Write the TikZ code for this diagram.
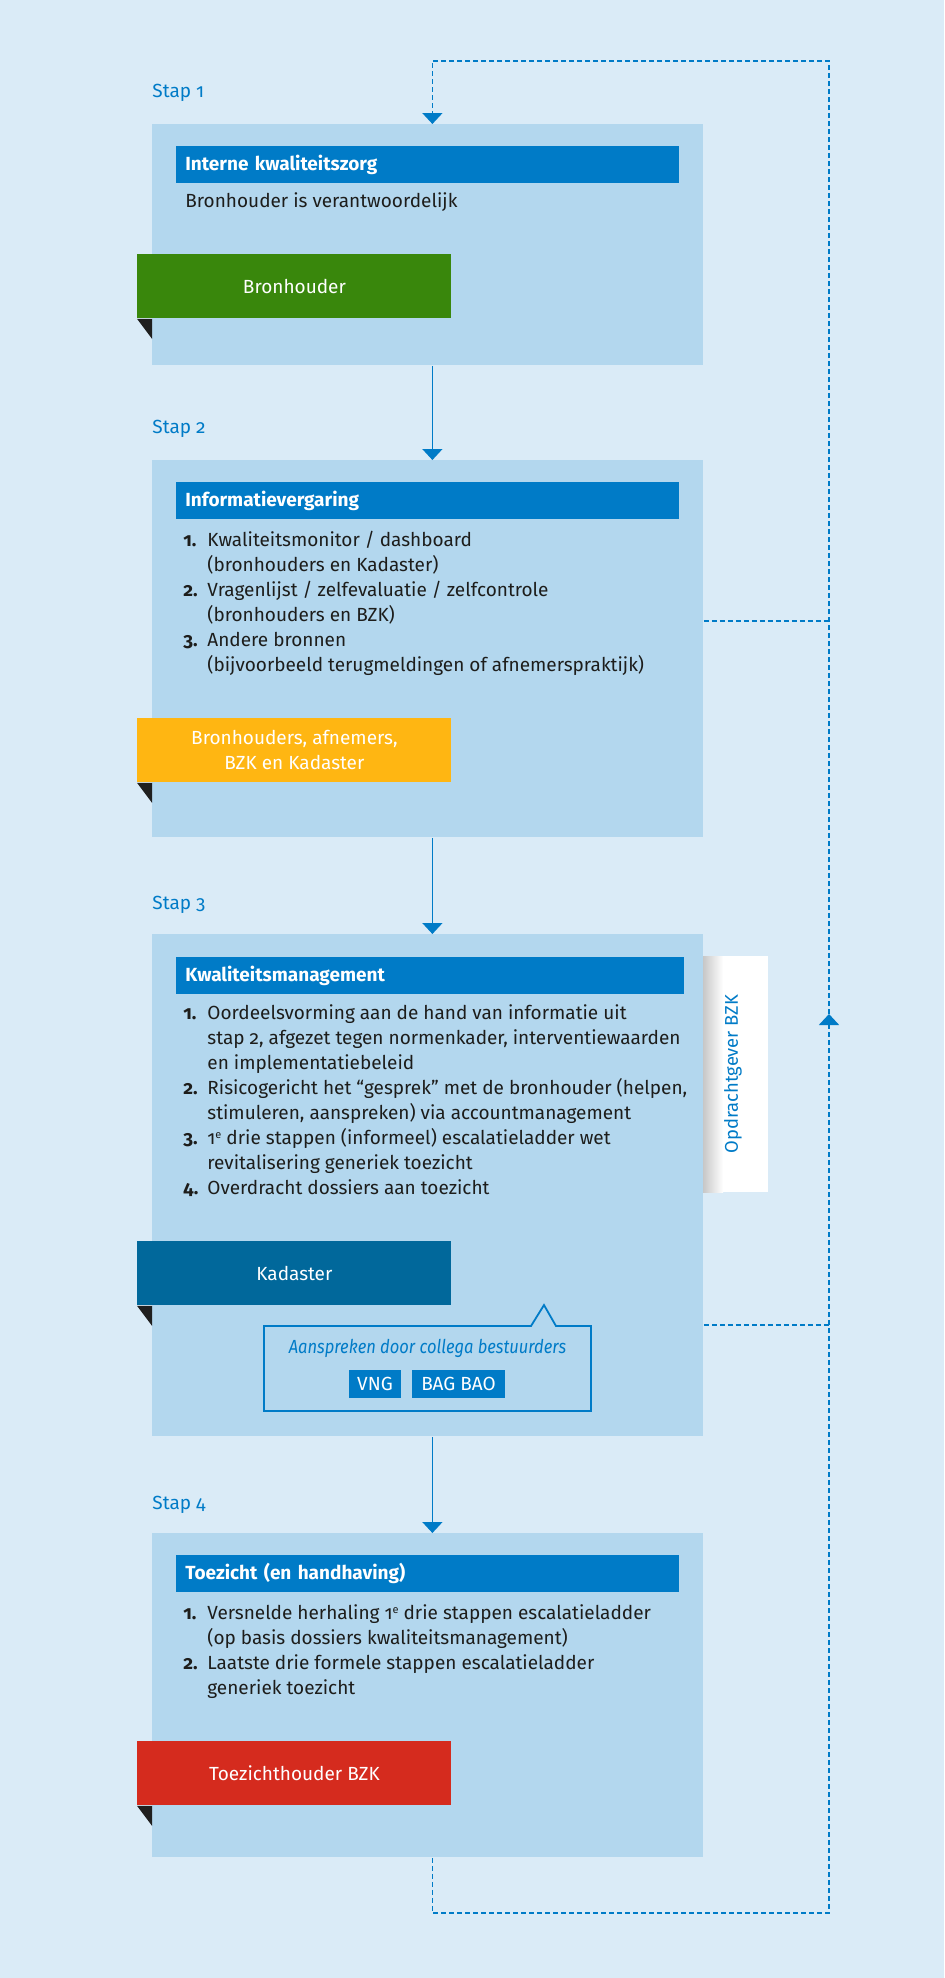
\documentclass[tikz,border=0pt]{standalone}
\usepackage{fontspec}
\setmainfont{Fira Sans}[Numbers=OldStyle]
\newfontfamily\calloutfont{Fira Sans}[FakeStretch=0.87, Numbers=OldStyle]
\usepackage{xcolor}
\usetikzlibrary{arrows.meta}

\definecolor{bgblue}{HTML}{DAEBF7}
\definecolor{boxblue}{HTML}{B3D7EE}
\definecolor{roblue}{HTML}{007BC7}
\definecolor{rogreen}{HTML}{39870C}
\definecolor{royellow}{HTML}{FFB612}
\definecolor{rodarkblue}{HTML}{01689B}
\definecolor{rored}{HTML}{D52B1E}
\definecolor{textdark}{HTML}{1D1D1B}

\newcommand{\bodysize}{\fontsize{9.5}{12.5}\selectfont}
\newcommand{\nr}[1]{\makebox[12pt][l]{\bfseries #1}}
\newcommand{\ind}{\hspace*{12pt}}
\newcommand{\ordsup}[1]{\raisebox{0.6ex}{\fontsize{5.5}{6}\selectfont #1}}

\begin{document}
\begin{tikzpicture}[x=0.5pt, y=-0.5pt, font=\bodysize,
    stepbox/.style={rectangle, fill=boxblue, inner sep=0pt, anchor=north west, minimum width=275.5pt},
    titlebar/.style={rectangle, fill=roblue, text=white, font=\bodysize\bfseries, anchor=north west,
        inner xsep=4.5pt, inner ysep=0pt, minimum height=18.5pt, text width=242.5pt, align=left},
    tab/.style={rectangle, anchor=north west, inner sep=0pt, minimum width=157pt, minimum height=32pt,
        text=white, align=center},
    tabfold/.style={fill=black!88},
    steplabel/.style={anchor=west, inner sep=0pt, text=roblue},
    listtext/.style={anchor=north west, inner sep=0pt, align=left, text=textdark},
    smallbox/.style={rectangle, fill=roblue, text=white, inner sep=0pt, minimum height=14pt},
    arrow/.style={-{Triangle[width=10pt,length=5.5pt]}, roblue, line width=0.75pt},
    feedback/.style={roblue, line width=0.9pt, dash pattern=on 2.5pt off 1.5pt},
    callout/.style={draw=roblue, line width=0.9pt}
]
    \fill[bgblue] (0,0) rectangle (944,1978);
    \useasboundingbox (0,0) rectangle (944,1978);

    \node[stepbox, minimum height=120.5pt] (stap1box) at (152,124) {};
    \node[stepbox, minimum height=188.5pt] (stap2box) at (152,460) {};
    \node[stepbox, minimum height=251pt] (stap3box) at (152,934) {};
    \node[stepbox, minimum height=162pt] (stap4box) at (152,1533) {};

    \node[steplabel] (stap1) at (152,93) {Stap 1};
    \node[steplabel] (stap2) at (152,429) {Stap 2};
    \node[steplabel] (stap3) at (152,905) {Stap 3};
    \node[steplabel] (stap4) at (152,1505) {Stap 4};

    \node[titlebar] (title1) at (176,146) {Interne kwaliteitszorg};
    \node[titlebar] (title2) at (176,482) {Informatievergaring};
    \node[titlebar, text width=245pt] (title3) at (176,957) {Kwaliteitsmanagement};
    \node[titlebar] (title4) at (176,1555) {Toezicht (en handhaving)};

    \node[listtext, anchor=west] (text1) at (185,202) {Bronhouder is verantwoordelijk};
    \node[listtext] (list2) at (183,531) {\nr{1.}Kwaliteitsmonitor / dashboard\\
        \ind(bronhouders en Kadaster)\\
        \nr{2.}Vragenlijst / zelfevaluatie / zelfcontrole\\
        \ind(bronhouders en BZK)\\
        \nr{3.}Andere bronnen\\
        \ind(bijvoorbeeld terugmeldingen of afnemerspraktijk)};
    \node[listtext] (list3) at (183,1004) {\nr{1.}Oordeelsvorming aan de hand van informatie uit\\
        \ind stap 2, afgezet tegen normenkader, interventiewaarden\\
        \ind en implementatiebeleid\\
        \nr{2.}Risicogericht het “gesprek” met de bronhouder (helpen,\\
        \ind stimuleren, aanspreken) via accountmanagement\\
        \nr{3.}1\ordsup{e} drie stappen (informeel) escalatieladder wet\\
        \ind revitalisering generiek toezicht\\
        \nr{4.}Overdracht dossiers aan toezicht};
    \node[listtext] (list4) at (183,1604) {\nr{1.}Versnelde herhaling 1\ordsup{e} drie stappen escalatieladder\\
        \ind(op basis dossiers kwaliteitsmanagement)\\
        \nr{2.}Laatste drie formele stappen escalatieladder\\
        \ind generiek toezicht};

    \node[tab, fill=rogreen] (tab1) at (137,254) {Bronhouder};
    \node[tab, fill=royellow] (tab2) at (137,718) {Bronhouders, afnemers,\\BZK en Kadaster};
    \node[tab, fill=rodarkblue] (tab3) at (137,1241) {Kadaster};
    \node[tab, fill=rored] (tab4) at (137,1741) {Toezichthouder BZK};
    \foreach \t in {tab1,tab2,tab3,tab4}
        \fill[tabfold] (\t.south west) -- ++(15,0) -- ++(0,20) -- cycle;

    \draw[callout] (264,1326) -- (531,1326) -- (544,1305) -- (556,1326) -- (591,1326)
        -- (591,1411) -- (264,1411) -- cycle;
    \node[text=roblue, font=\calloutfont\bodysize\itshape] (aanspreken) at (427.5,1348) {Aanspreken door collega bestuurders};
    \node[smallbox, minimum width=26pt] (vng) at (375,1384) {VNG};
    \node[smallbox, minimum width=46.5pt] (bagbao) at (458.5,1384) {BAG BAO};

    \node[rectangle, fill=white, inner sep=0pt, anchor=north west, minimum width=32.5pt,
        minimum height=118pt] (strip) at (703,956) {};
    \shade[left color=black!22, right color=white] (strip.north west) rectangle ++(20,236);
    \node[rotate=90, text=roblue, font=\fontsize{9.2}{11}\selectfont] (opdrachtgever) at (733,1074) {Opdrachtgever BZK};

    \foreach \a/\b in {stap1box/stap2box, stap2box/stap3box, stap3box/stap4box}
        \draw[arrow] ([xshift=2.25pt]\a.south) -- ([xshift=2.25pt]\b.north);

    \coordinate (loopbottom) at (829,1913);
    \coordinate (looptop) at (829,61);
    \coordinate (loopup) at (829,1014);
    \coordinate (branch2) at (829,621);
    \coordinate (branch3) at (829,1325);
    \draw[feedback, -{Triangle[width=10pt,length=5.5pt]}] ([xshift=2.25pt]stap4box.south) |- (loopbottom) -- (loopup);
    \draw[feedback, -{Triangle[width=10pt,length=5.5pt]}] (loopup) -- (looptop) -| ([xshift=2.25pt]stap1box.north);
    \draw[feedback] (stap2box.east |- branch2) -- (branch2);
    \draw[feedback] (stap3box.east |- branch3) -- (branch3);
\end{tikzpicture}
\end{document}
